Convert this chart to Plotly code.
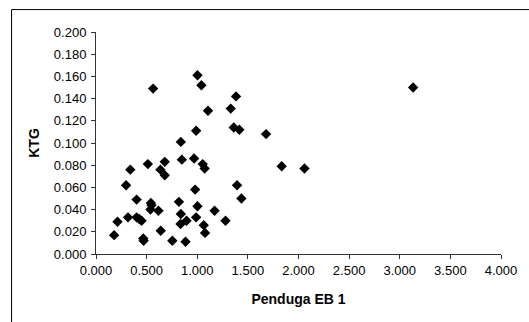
import plotly.graph_objects as go

penduga_eb1 = [0.179, 0.212, 0.297, 0.316, 0.339, 0.401, 0.401, 0.427, 0.450, 0.467,
               0.470, 0.512, 0.542, 0.548, 0.538, 0.564, 0.617, 0.636, 0.639, 0.679,
               0.679, 0.754, 0.819, 0.838, 0.838, 0.835, 0.848, 0.884, 0.894, 0.969,
               0.979, 0.989, 0.989, 1.002, 1.002, 1.041, 1.054, 1.073, 1.064, 1.077,
               1.106, 1.171, 1.279, 1.331, 1.361, 1.383, 1.393, 1.416, 1.436, 1.680,
               1.834, 2.059, 3.132]
ktg = [0.017, 0.029, 0.062, 0.033, 0.076, 0.049, 0.033, 0.0315, 0.030, 0.014,
       0.012, 0.081, 0.046, 0.044, 0.040, 0.149, 0.039, 0.076, 0.021, 0.083,
       0.071, 0.012, 0.047, 0.101, 0.036, 0.027, 0.085, 0.011, 0.030, 0.086,
       0.058, 0.111, 0.033, 0.043, 0.161, 0.152, 0.081, 0.077, 0.026, 0.019,
       0.129, 0.039, 0.030, 0.131, 0.114, 0.142, 0.062, 0.112, 0.050, 0.108,
       0.079, 0.077, 0.150]

font = "Liberation Sans, Arial, sans-serif"

fig = go.Figure(go.Scatter(
    x=penduga_eb1, y=ktg, mode="markers",
    marker=dict(symbol="diamond", size=8, color="black"),
))

fig.update_layout(
    width=529, height=322,
    margin=dict(l=96, r=25, t=32, b=68),
    paper_bgcolor="white", plot_bgcolor="white",
    showlegend=False,
    font=dict(family=font, size=13, color="black"),
    xaxis=dict(
        range=[0, 4], tickvals=[0, 0.5, 1, 1.5, 2, 2.5, 3, 3.5, 4],
        tickformat=".3f", showgrid=False, zeroline=False,
        showline=True, linecolor="#333", linewidth=1,
        ticks="outside", ticklen=4, tickcolor="#333",
        title=dict(text="<b>Penduga EB 1</b>", font=dict(size=14), standoff=17),
    ),
    yaxis=dict(
        range=[0, 0.2], tickvals=[0, 0.02, 0.04, 0.06, 0.08, 0.1, 0.12, 0.14, 0.16, 0.18, 0.2],
        tickformat=".3f", showgrid=False, zeroline=False,
        showline=True, linecolor="#333", linewidth=1,
        ticks="outside", ticklen=4, tickcolor="#333",
        ticklabelstandoff=2,
        title=dict(text="<b>KTG</b>", font=dict(size=14), standoff=10),
    ),
    shapes=[dict(type="rect", xref="paper", yref="paper",
                 x0=-0.2085, x1=1.3, y0=-0.6, y1=1.101,
                 line=dict(color="black", width=1), fillcolor="rgba(0,0,0,0)", layer="below")],
)

fig.write_html(
    "out.html",
    config={"displayModeBar": False},
    post_script="document.body.style.margin='0';document.body.style.overflow='hidden';",
)
